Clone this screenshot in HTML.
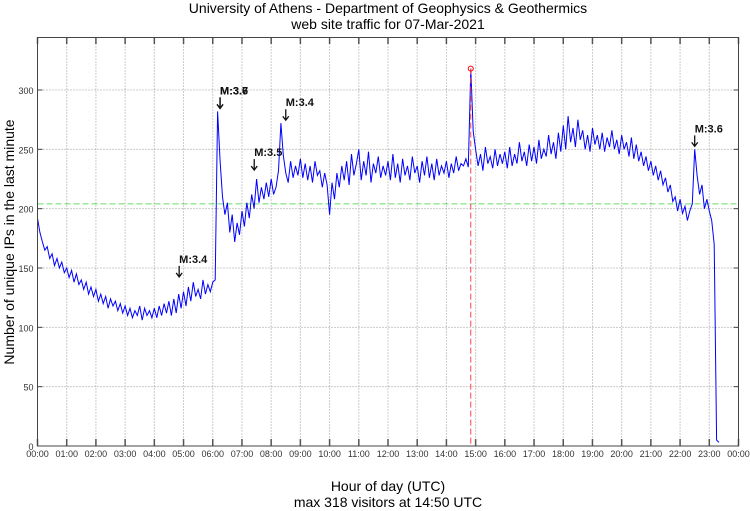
<!DOCTYPE html>
<html><head><meta charset="utf-8"><style>
body{margin:0;background:#fff;}
svg{display:block;font-family:"Liberation Sans",sans-serif;}
</style></head><body>
<svg id="chart" width="750" height="511" viewBox="0 0 750 511" xmlns="http://www.w3.org/2000/svg">
<text x="388" y="13" font-size="14" text-anchor="middle">University of Athens - Department of Geophysics &amp; Geothermics</text>
<text x="388" y="29" font-size="14" text-anchor="middle">web site traffic for 07-Mar-2021</text>
<text transform="translate(14,242) rotate(-90)" font-size="14" text-anchor="middle">Number of unique IPs in the last minute</text>
<text x="388" y="491" font-size="14" text-anchor="middle">Hour of day (UTC)</text>
<text x="388" y="507" font-size="14" text-anchor="middle">max 318 visitors at 14:50 UTC</text>
<g id="grid"></g><g id="series"></g><g id="annot"></g>
<rect x="37.5" y="37.5" width="701" height="408.5" fill="none" stroke="#444" stroke-width="1"/>
</svg>
<script>
const yTicks=[0,50,100,150,200,250,300];
const xTickLabels=["00:00","01:00","02:00","03:00","04:00","05:00","06:00","07:00","08:00","09:00","10:00","11:00","12:00","13:00","14:00","15:00","16:00","17:00","18:00","19:00","20:00","21:00","22:00","23:00","00:00"];
const stepMinutes=5;
const visitors=[
192,180,172,165,168,158,162,152,158,150,155,146,
150,142,148,138,145,136,140,132,138,128,134,126,
132,122,128,120,126,116,124,118,122,114,120,112,
118,110,116,108,114,110,118,106,116,110,114,108,
116,108,118,110,120,112,122,110,124,112,128,116,
130,118,134,122,138,126,132,124,140,128,136,130,
138,140,282,240,210,195,205,180,195,172,188,178,
198,185,205,192,212,200,225,205,218,208,222,210,
225,212,218,232,272,245,230,222,240,226,236,228,
242,226,238,224,236,222,240,228,232,218,230,220,
195,222,208,230,218,236,224,240,220,246,228,238,
250,224,240,228,248,222,238,230,244,226,236,228,
240,224,246,226,238,222,242,228,236,224,244,230,
236,222,240,228,244,226,238,224,242,228,236,230,
240,226,238,230,244,232,238,236,242,235,318,265,
250,236,246,232,252,238,244,234,250,236,246,238,
248,234,252,236,246,238,256,240,248,236,254,240,
252,238,258,242,250,244,262,246,256,242,264,248,
270,250,278,256,268,252,275,258,266,250,262,248,
268,254,262,250,264,248,260,252,266,250,258,246,
262,250,256,244,260,242,254,240,248,236,244,232,
240,228,236,224,232,220,226,214,220,206,210,198,
208,196,202,190,198,204,250,228,212,220,200,208,
198,190,170,5,3];
const averageLine=204;
const maxValue=318, maxHour=14+50/60;
const quakeLabels=["M:3.4","M:3.7","M:3.6","M:3.5","M:3.4","M:3.6"];
const quakeHours=[4.85,6.25,6.25,7.42,8.5,22.5];
const quakeValues=[140,282,282,230,272,250];

const X0=37.5,X1=738.5,Y0=446,Y1=90;
const xs=h=>X0+(X1-X0)*h/24;
const ys=v=>Y0-(Y0-Y1)*v/300;
const NS="http://www.w3.org/2000/svg";
function mk(tag,attrs,parent,text){const e=document.createElementNS(NS,tag);for(const k in attrs)e.setAttribute(k,attrs[k]);if(text!==undefined)e.textContent=text;parent.appendChild(e);return e;}
const grid=document.getElementById('grid'),ser=document.getElementById('series'),an=document.getElementById('annot');
yTicks.forEach(v=>{const y=ys(v);
 if(v>0){const g=mk('line',{x1:X0,x2:X1,y1:y,y2:y,stroke:'#999','stroke-dasharray':'1,2'},grid);
 
 }
 mk('line',{x1:X0,x2:X0+5,y1:y,y2:y,stroke:'#444'},grid);
 mk('line',{x1:X1-5,x2:X1,y1:y,y2:y,stroke:'#444'},grid);
 const t=mk('text',{x:X0-4,y:y+4,'font-size':9,'text-anchor':'end',fill:'#333'},grid,String(v));
 
 
});
xTickLabels.forEach((l,i)=>{const x=xs(i);
 if(i>0&&i<24){const g=mk('line',{x1:x,x2:x,y1:37.5,y2:Y0,stroke:'#999','stroke-dasharray':'1,2'},grid);
 
 }
 mk('line',{x1:x,x2:x,y1:Y0-7,y2:Y0,stroke:'#555','stroke-width':1.5},grid);
 mk('line',{x1:x,x2:x,y1:37.5,y2:44,stroke:'#555','stroke-width':1.5},grid);
 const t=mk('text',{x:x,y:Y0+11,'font-size':9,'text-anchor':'middle',fill:'#333'},grid,l);
 
 
});
const avg=mk('line',{x1:X0,x2:X1,y1:ys(averageLine),y2:ys(averageLine),stroke:'#6d6','stroke-dasharray':'6,3'},ser);


const pts=visitors.map((v,i)=>xs(i*stepMinutes/60).toFixed(1)+','+ys(v).toFixed(1)).join(' ');
const pl=mk('polyline',{points:pts,fill:'none',stroke:'#00f','stroke-width':1},ser);


const mv=mk('line',{x1:xs(maxHour),x2:xs(maxHour),y1:ys(maxValue),y2:Y0,stroke:'#f44','stroke-dasharray':'6,3'},ser);


const mc=mk('circle',{cx:xs(maxHour),cy:ys(maxValue),r:2.5,fill:'none',stroke:'#f00'},ser);


quakeLabels.forEach((l,i)=>{const x=xs(quakeHours[i]),y=ys(quakeValues[i]);
 const t=mk('text',{x:x,y:y-17,'font-size':11,'font-weight':'bold',fill:'#111'},an,l);
 
 
 const a=mk('path',{d:`M${x},${y-14}V${y-3}M${x-3},${y-7}L${x},${y-3}L${x+3},${y-7}`,fill:'none',stroke:'#111','stroke-width':1.3},an);
 
 
});
</script>
</body></html>
